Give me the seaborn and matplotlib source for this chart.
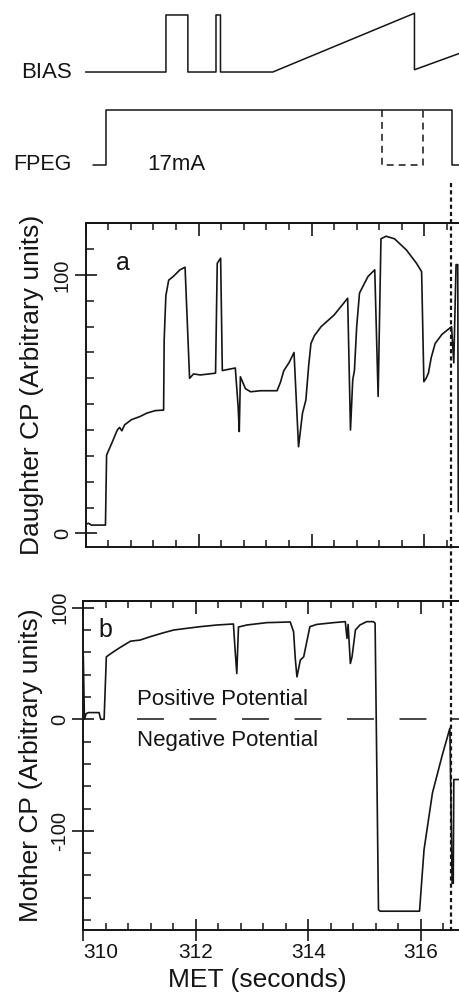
import numpy as np
import pandas as pd
import matplotlib
matplotlib.use("Agg")
import matplotlib.pyplot as plt
import seaborn as sns
from matplotlib.ticker import MultipleLocator, FixedLocator
from matplotlib.lines import Line2D
import matplotlib.transforms as mtrans

# ---------------- data ----------------
bias_t = [310.04, 311.47, 311.47, 311.86, 311.86, 312.36, 312.36, 312.44, 312.44,
          313.37, 315.89, 315.89, 316.70]
bias_v = [0, 0, 1, 1, 0, 0, 1, 1, 0, 0, 1.03, 0.04, 0.33]

fpeg_t = [310.17, 310.41, 310.41, 316.55, 316.55, 316.70]
fpeg_v = [0, 0, 1, 1, 0, 0]

fpeg_alt_t = [315.31, 315.31, 316.04, 316.04]
fpeg_alt_v = [1, 0, 0, 1]

daughter_t = [310.00, 310.05, 310.10, 310.30, 310.35, 310.37, 310.46, 310.56, 310.60, 310.64, 310.69,
              310.81, 310.96, 311.08, 311.23, 311.38, 311.39, 311.42, 311.47, 311.55, 311.67, 311.76,
              311.84, 311.91, 312.03, 312.30, 312.33, 312.39, 312.42, 312.65, 312.70, 312.72,
              312.74, 312.83, 312.92, 313.10, 313.39, 313.45, 313.51, 313.60, 313.69, 313.77, 313.84,
              313.90, 313.95, 313.99, 314.05, 314.17, 314.40, 314.64, 314.69, 314.73, 314.76, 314.80,
              314.85, 315.00, 315.12, 315.18, 315.23, 315.32, 315.47, 315.68, 315.86, 315.95,
              315.99, 316.03, 316.07, 316.12, 316.19, 316.31, 316.48, 316.52, 316.56, 316.59,
              316.60, 316.75]
daughter_v = [3.5, 3.9, 3.2, 3.2, 3.2, 30.3, 34.8, 40.0, 41.0, 39.7, 42.0,
              44.0, 45.2, 46.5, 47.5, 47.7, 75.0, 92.0, 98.0, 99.4, 102.0, 103.0,
              60.0, 61.7, 61.3, 62.0, 104.5, 106.5, 63.0, 64.0, 49.0, 39.4,
              60.6, 56.0, 54.8, 55.2, 55.2, 58.5, 63.0, 66.0, 70.0, 33.5, 46.5,
              51.6, 65.0, 73.5, 76.5, 80.0, 84.5, 91.0, 40.0, 59.4, 63.0, 80.0,
              93.0, 99.4, 102.0, 53.0, 114.0, 115.0, 114.0, 109.7, 104.5, 101.3,
              58.7, 60.0, 62.0, 68.0, 73.5, 77.0, 80.0, 66.0, 104.0, 104.0,
              8.4, 8.4]

mother_t = [310.00, 310.02, 310.05, 310.09, 310.28, 310.31, 310.37, 310.41, 310.54, 310.66,
            310.84, 311.01, 311.19, 311.43, 311.61, 311.84, 312.08, 312.38, 312.67, 312.70,
            312.73, 312.76, 312.91, 313.26, 313.68, 313.74, 313.77, 313.80, 313.86, 313.92,
            314.03, 314.15, 314.45, 314.66, 314.69, 314.71, 314.75, 314.78, 314.84, 314.92,
            315.04, 315.16, 315.19, 315.25, 315.28, 315.98, 316.06, 316.21, 316.38, 316.52,
            316.56, 316.58, 316.59, 316.80]
mother_v = [57, 0, 5, 6, 6, 0, 0, 56, 60.6, 64.5,
            70, 71, 74, 77.6, 80, 81.5, 83, 84.5, 85.4, 62,
            41, 82.7, 84.5, 86.6, 87.2, 78.5, 54.6, 38, 53, 56,
            83, 85, 86.6, 87.5, 72.5, 85, 50, 56, 80, 84.5,
            87.5, 87.5, 86, -170.7, -172, -172, -117, -66, -33, -8,
            -147, -147, -54, -54]

x_major = [310, 312, 314, 316]
a_yticks = [0, 100]
b_yticks = [-100, 0, 100]
marker_time = 316.54

# ---------------- style ----------------
sns.set_style("ticks")
plt.rcParams["font.family"] = ["Liberation Sans", "DejaVu Sans"]
plt.rcParams["lines.scale_dashes"] = False
plt.rcParams["axes.unicode_minus"] = False
INK = "#151515"

W, H = 460, 998
fig = plt.figure(figsize=(W / 100, H / 100), dpi=100)


def px_axes(left, top, right, bottom):
    return fig.add_axes([left / W, 1 - bottom / H, (right - left) / W, (bottom - top) / H])


ax_bias = px_axes(83.3, 5, 460, 80)
ax_fpeg = px_axes(83.3, 95, 460, 185)
ax_a = px_axes(85.7, 223.3, 460, 547.3)
ax_b = px_axes(83.3, 601, 460, 929.5)

# ---------------- top traces ----------------
sns.lineplot(x=bias_t, y=bias_v, ax=ax_bias, color=INK, lw=1.1, sort=False, estimator=None)
sns.lineplot(x=fpeg_t, y=fpeg_v, ax=ax_fpeg, color=INK, lw=1.1, sort=False, estimator=None)
sns.lineplot(x=fpeg_alt_t, y=fpeg_alt_v, ax=ax_fpeg, color=INK, lw=1.1, sort=False,
             estimator=None, linestyle=(0, (5, 3.6)))
for ax, lo, hi in [(ax_bias, -0.14, 1.175), (ax_fpeg, -0.364, 1.273)]:
    ax.set_xlim(310, 316.70)
    ax.set_ylim(lo, hi)
    ax.axis("off")

ax_bias.text(309.80, 0, "BIAS", ha="right", va="center", fontsize=16, color=INK, clip_on=False)
ax_fpeg.text(309.80, 0, "FPEG", ha="right", va="center", fontsize=15.5, color=INK, clip_on=False)
ax_fpeg.text(311.14, 0, "17mA", ha="left", va="center", fontsize=16, color=INK)

# ---------------- panel a ----------------
sns.lineplot(x=daughter_t, y=daughter_v, ax=ax_a, color=INK, lw=1.2, sort=False, estimator=None)
ax_a.set_xlim(310, 316.63)
ax_a.set_ylim(-5.4, 120.0)
ax_a.yaxis.set_major_locator(FixedLocator(a_yticks))
ax_a.yaxis.set_minor_locator(MultipleLocator(10))
ax_a.text(310.66, 104.6, "a", ha="center", va="center", fontsize=18, color=INK)
ax_a.set_ylabel("Daughter CP (Arbitrary units)", fontsize=19, color=INK)
ax_a.yaxis.set_label_coords(-0.111, 0.5)

# ---------------- panel b ----------------
sns.lineplot(x=mother_t, y=mother_v, ax=ax_b, color=INK, lw=1.2, sort=False, estimator=None)
ax_b.set_xlim(310, 316.70)
ax_b.set_ylim(-188.4, 106.0)
ax_b.yaxis.set_major_locator(FixedLocator(b_yticks))
ax_b.yaxis.set_minor_locator(MultipleLocator(20))
ax_b.axhline(0, xmin=(137 - 83.3) / 376.7, xmax=1.0, color=INK, lw=1.1,
             linestyle=(0, (19.4, 18.4)))
ax_b.text(310.955, 17.3, "Positive Potential", ha="left", va="center", fontsize=16, color=INK)
ax_b.text(310.955, -18.6, "Negative Potential", ha="left", va="center", fontsize=16, color=INK)
ax_b.text(310.39, 80, "b", ha="center", va="center", fontsize=18, color=INK)
ax_b.set_ylabel("Mother CP (Arbitrary units)", fontsize=19, color=INK)
ax_b.yaxis.set_label_coords(-0.107, 0.5)
ax_b.set_xlabel("MET (seconds)", fontsize=19, color=INK)
ax_b.xaxis.set_label_coords(0.461, -0.118)

# ---------------- axes cosmetics ----------------
for ax, xin in [(ax_a, "in"), (ax_b, "inout")]:
    ax.xaxis.set_major_locator(FixedLocator(x_major))
    ax.xaxis.set_minor_locator(MultipleLocator(0.4))
    ax.spines["right"].set_visible(False)
    for s in ["left", "bottom", "top"]:
        ax.spines[s].set_linewidth(1.4)
        ax.spines[s].set_color(INK)
    ax.tick_params(axis="x", which="major", direction=xin,
                   length=16 if xin == "inout" else 9.5, width=1.2, color=INK,
                   labelsize=15, pad=2, labelcolor=INK)
    ax.tick_params(axis="x", which="minor", direction="in", length=5, width=1.1, color=INK)
    ax.tick_params(axis="y", which="major", direction="inout", length=16, width=1.2,
                   color=INK, labelsize=14.5, pad=2, labelrotation=90, labelcolor=INK)
    ax.tick_params(axis="y", which="minor", direction="in", length=5.5, width=1.1, color=INK)
    for lbl in ax.get_yticklabels():
        lbl.set_va("center")
    sec = ax.secondary_xaxis("top")
    sec.xaxis.set_major_locator(FixedLocator(x_major))
    sec.xaxis.set_minor_locator(MultipleLocator(0.4))
    sec.tick_params(which="major", direction="in", length=9, width=1.2, color=INK, labeltop=False)
    sec.tick_params(which="minor", direction="in", length=5, width=1.1, color=INK)
    sec.spines["top"].set_linewidth(1.4)
    sec.spines["top"].set_color(INK)

ax_a.tick_params(axis="x", labelbottom=False)
ax_a.set_xlabel("")

# first x tick label sits to the right of its tick, as in the original
fig.canvas.draw()
xlabels = ax_b.get_xticklabels()
if xlabels:
    xlabels[0].set_ha("left")

# ---------------- dotted marker line ----------------
trans = mtrans.blended_transform_factory(ax_b.transData, fig.transFigure)
fig.add_artist(Line2D([marker_time, marker_time], [1 - 183 / H, 1 - 932 / H],
                      transform=trans, color=INK, lw=1.6, linestyle=(0, (3, 2.2))))

fig.savefig("out.png", dpi=100)
